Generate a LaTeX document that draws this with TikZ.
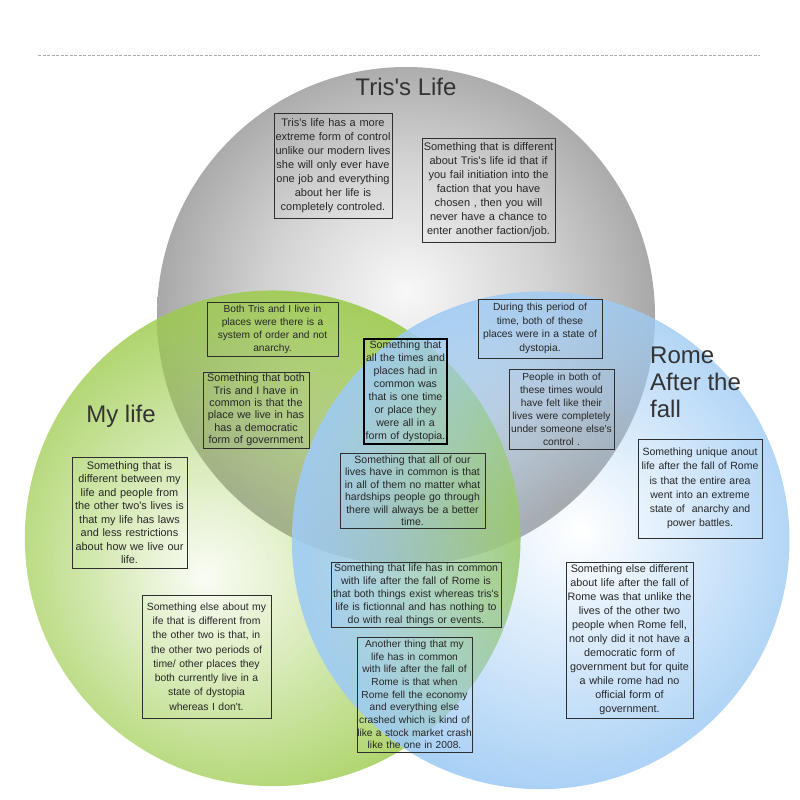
\documentclass[tikz,border=0pt]{standalone}
\usepackage{fontspec}
\newfontfamily\lsans{Liberation Sans}
\usetikzlibrary{fadings}
\definecolor{grayin}{HTML}{F8F8F8}
\definecolor{graymid}{HTML}{D2D2D2}
\definecolor{grayout}{HTML}{A8A8A8}
\definecolor{greenc}{HTML}{9CCB4C}
\definecolor{bluec}{HTML}{9FCBF4}
\definecolor{boxc}{HTML}{2E2E2E}
\definecolor{txt}{HTML}{262626}
\definecolor{titlec}{HTML}{333333}
\definecolor{dashc}{HTML}{AAAAAA}
\pgfdeclareradialshading{grayball}{\pgfpoint{0bp}{2.5bp}}{color(0bp)=(grayin); color(14bp)=(graymid); color(25bp)=(grayout); color(50bp)=(grayout)}
\pgfdeclareradialshading{greenalpha}{\pgfpoint{-7bp}{-4bp}}{color(0bp)=(black!95); color(28bp)=(white!90!black); color(50bp)=(white!90!black)}
\pgfdeclareradialshading{bluealpha}{\pgfpoint{4bp}{1bp}}{color(0bp)=(black); color(26bp)=(white!90!black); color(50bp)=(white!90!black)}
\pgfdeclarefading{greenfade}{\pgfuseshading{greenalpha}}
\pgfdeclarefading{bluefade}{\pgfuseshading{bluealpha}}
\tikzset{
  tbox/.style={draw=boxc, line width=1pt, align=center, text=txt,
    font=\lsans\fontsize{10.6}{13.5}\selectfont, inner xsep=0pt, inner ysep=0pt},
  ttl/.style={text=titlec, font=\lsans\fontsize{24}{27}\selectfont, inner sep=0pt}
}
\newcommand{\fs}[2]{\lsans\fontsize{#1}{#2}\selectfont}
\begin{document}
\begin{tikzpicture}[x=1pt,y=-1pt]
\useasboundingbox (0,0) rectangle (800,800);
% dotted rule
\coordinate (dl) at (38,56);
\coordinate (dr) at (760,56);
\draw[dashc, line width=1pt, dash pattern=on 3pt off 1.5pt] (dl) -- (dr);
% circles
\shade[shading=grayball] (406,316) circle (249);
\fill[greenc, path fading=greenfade] (273,538) circle (248);
\fill[bluec, path fading=bluefade] (541,540) circle (249);
% titles
\node[ttl] (t1) at (406,87) {Tris's Life};
\node[ttl] (t2) at (121,416) {My life};
\node[ttl, anchor=west, align=left] (t3) at (650,382) {Rome\\After the\\fall};
% boxes
\node[tbox, text width=118pt, minimum height=105pt, font=\fs{11}{14}] (b1) at (333,165.5)
 {Tris's life has a more\\extreme form of control\\unlike our modern lives\\she will only ever have\\one job and everything\\about her life is\\completely controled.};
\node[tbox, text width=133pt, minimum height=104pt, font=\fs{11}{14}] (b2) at (488.5,190)
 {Something that is different\\about Tris's life id that if\\you fail initiation into the\\faction that you have\\chosen , then you will\\never have a chance to\\enter another faction/job.};
\node[tbox, text width=131pt, minimum height=54pt, font=\fs{10.2}{13}] (b3) at (272.5,329)
 {Both Tris and I live in\\places were there is a\\system of order and not\\anarchy.};
\node[tbox, text width=106pt, minimum height=76pt, font=\fs{10.8}{12.4}] (b4) at (256,410)
 {Something that both\\Tris and I have in\\common is that the\\place we live in has\\has a democratic\\form of government};
\node[tbox, draw=black, line width=1.4pt, text width=83pt, minimum height=105pt, font=\fs{10.6}{13}] (b5) at (405.5,391.5)
 {Something that\\all the times and\\places had in\\common was\\that is one time\\or place they\\were all in a\\form of dystopia.};
\node[tbox, text width=124pt, minimum height=59pt, font=\fs{10.3}{13.5}] (b6) at (540,328.5)
 {During this period of\\time, both of these\\places were in a state of\\dystopia.};
\node[tbox, text width=105pt, minimum height=80pt, font=\fs{10.2}{13}] (b7) at (561.5,409)
 {People in both of\\these times would\\have felt like their\\lives were completely\\under someone else's\\control .};
\node[tbox, text width=115pt, minimum height=111pt, font=\fs{10.9}{13.5}] (b8) at (129.5,512.5)
 {Something that is\\different between my\\life and people from\\the other two's lives is\\that my life has laws\\and less restrictions\\about how we live our\\life.};
\node[tbox, text width=145pt, minimum height=75pt, font=\fs{10.5}{12.5}] (b9) at (412.5,490.5)
 {Something that all of our\\lives have in common is that\\in all of them no matter what\\hardships people go through\\there will always be a better\\time.};
\node[tbox, text width=170pt, minimum height=65pt, font=\fs{10.5}{13}] (b10) at (416,594.5)
 {Something that life has in common\\with life after the fall of Rome is\\that both things exist whereas tris's\\life is fictionnal and has nothing to\\do with real things or events.};
\node[tbox, text width=129pt, minimum height=123pt, font=\fs{10.4}{14.3}] (b11) at (206.5,656.5)
 {Something else about my\\ife that is different from\\the other two is that, in\\the other two periods of\\time/ other places they\\both currently live in a\\state of dystopia\\whereas I don't.};
\node[tbox, text width=115pt, minimum height=115pt, font=\fs{10.2}{12.7}] (b12) at (414.5,694.5)
 {Another thing that my\\life has in common\\with life after the fall of\\Rome is that when\\Rome fell the economy\\and everything else\\crashed which is kind of\\like a stock market crash\\like the one in 2008.};
\node[tbox, text width=124pt, minimum height=99pt, font=\fs{10.5}{14.2}] (b13) at (700,488.5)
 {Something unique anout\\life after the fall of Rome\\is that the entire area\\went into an extreme\\state of \ anarchy and\\power battles.};
\node[tbox, text width=127pt, minimum height=156pt, font=\fs{10.8}{14}] (b14) at (629.5,640)
 {Something else different\\about life after the fall of\\Rome was that unlike the\\lives of the other two\\people when Rome fell,\\not only did it not have a\\democratic form of\\government but for quite\\a while rome had no\\official form of\\government.};
\end{tikzpicture}
\end{document}
